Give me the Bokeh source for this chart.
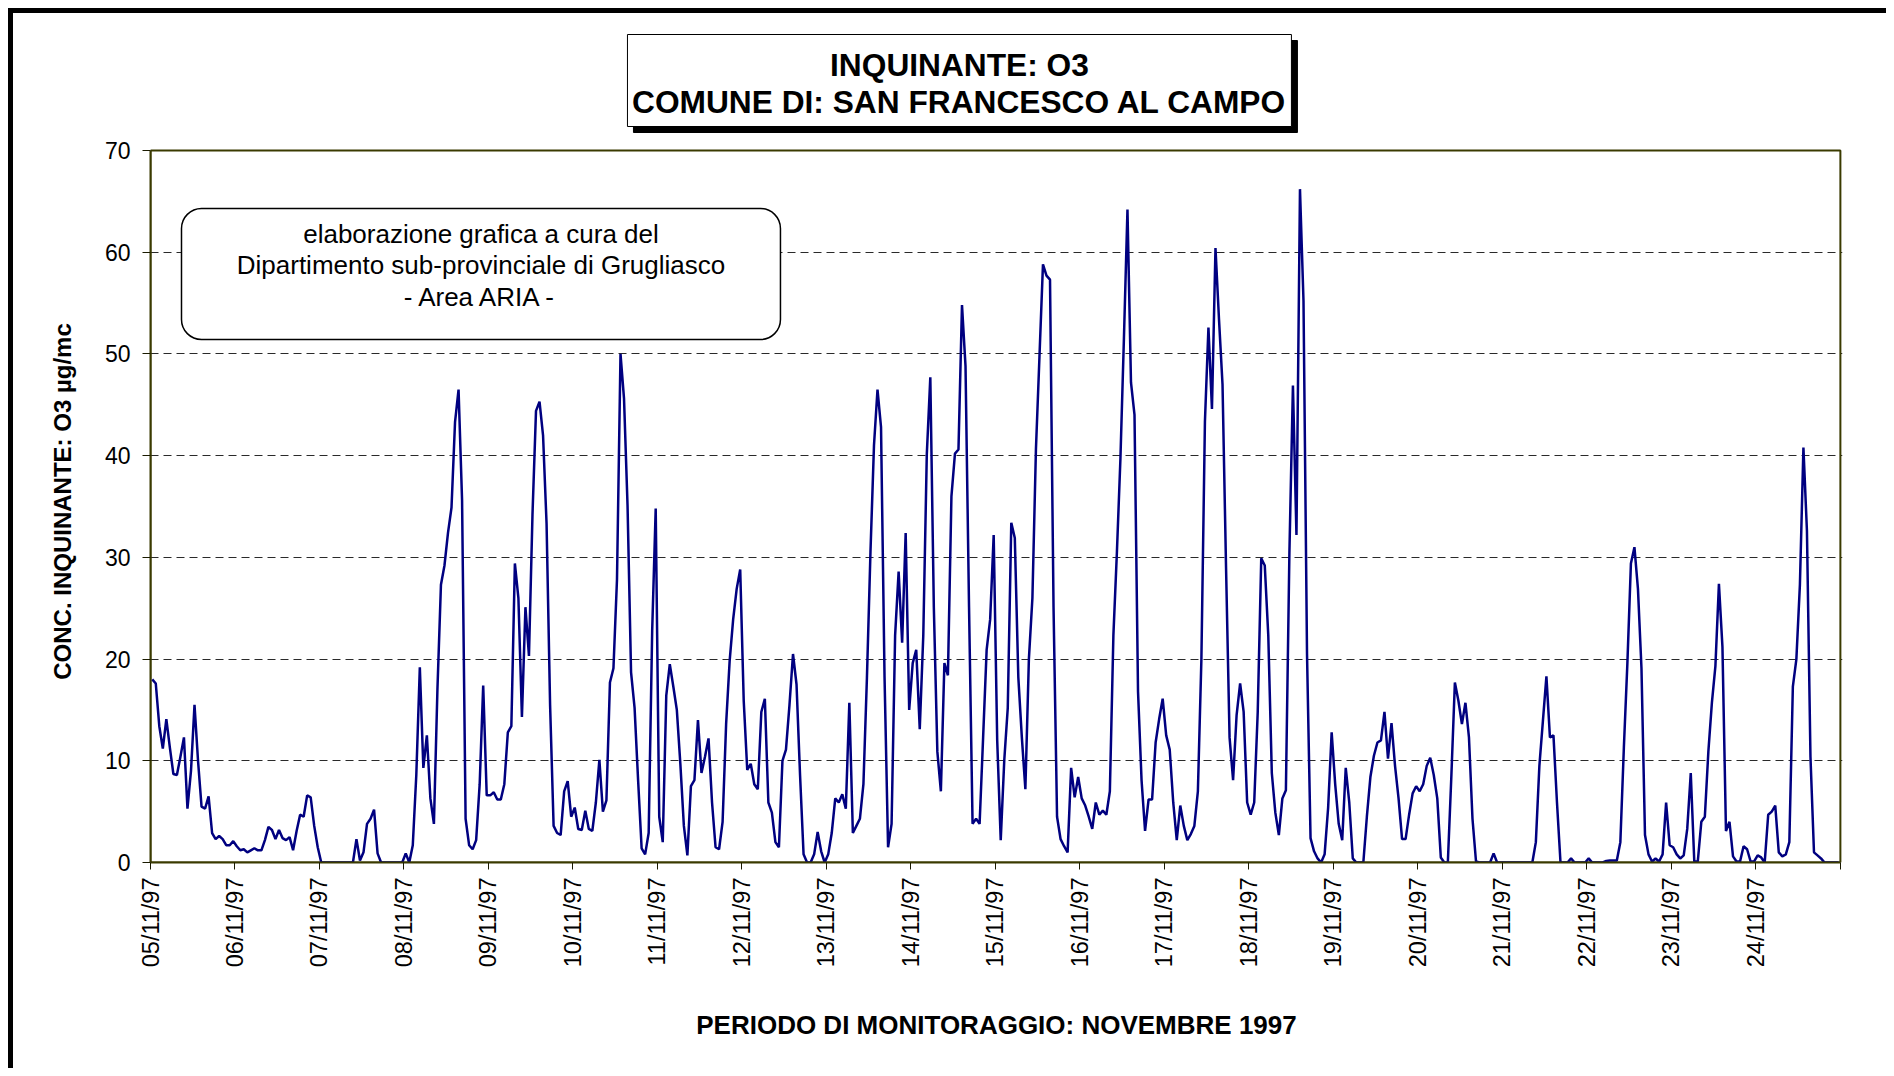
import math
from bokeh.plotting import figure
from bokeh.models import ColumnDataSource, FixedTicker, Label, BoxAnnotation, Range1d
from bokeh.embed import file_html
from bokeh.resources import INLINE

# ---------------- data (hourly O3, µg/mc) ----------------
day_labels = ["05/11/97", "06/11/97", "07/11/97", "08/11/97", "09/11/97",
              "10/11/97", "11/11/97", "12/11/97", "13/11/97", "14/11/97",
              "15/11/97", "16/11/97", "17/11/97", "18/11/97", "19/11/97",
              "20/11/97", "21/11/97", "22/11/97", "23/11/97", "24/11/97"]

o3_0511 = [18.0, 17.6, 13.4, 11.2, 14.1, 11.3, 8.7, 8.6, 10.4, 12.3, 5.3, 9.0,
           15.5, 10.0, 5.5, 5.3, 6.5, 2.9, 2.3, 2.6, 2.3, 1.7, 1.7, 2.1]
o3_0611 = [1.6, 1.2, 1.3, 1.0, 1.2, 1.4, 1.2, 1.2, 2.2, 3.5, 3.2, 2.3,
           3.2, 2.4, 2.2, 2.5, 1.2, 3.1, 4.7, 4.5, 6.6, 6.4, 3.6, 1.5]
o3_0711 = [0, 0, 0, 0, 0, 0, 0, 0, 0, 0, 2.3, 0.2,
           1.0, 3.8, 4.3, 5.2, 0.9, 0, 0, 0, 0, 0, 0, 0]
o3_0811 = [0.9, 0, 1.7, 8.6, 19.2, 9.3, 12.5, 6.3, 3.8, 17.0, 27.3, 29.2,
           32.4, 34.9, 43.3, 46.5, 35.6, 4.3, 1.7, 1.3, 2.2, 7.7, 17.4, 6.6]
o3_0911 = [6.6, 6.9, 6.2, 6.2, 7.7, 12.8, 13.4, 29.4, 26.0, 14.3, 25.1, 20.3,
           34.2, 44.4, 45.3, 42.0, 33.3, 15.5, 3.6, 2.9, 2.7, 7.0, 8.0, 4.5]
o3_1011 = [5.4, 3.3, 3.2, 5.1, 3.3, 3.1, 5.9, 10.1, 5.0, 6.1, 17.7, 19.1,
           27.8, 50.0, 45.6, 35.1, 18.7, 15.2, 8.1, 1.4, 0.8, 2.9, 22.8, 34.8]
o3_1111 = [4.5, 2.0, 16.4, 19.5, 17.3, 15.0, 9.7, 3.6, 0.7, 7.5, 8.1, 14.0,
           8.8, 10.4, 12.2, 5.9, 1.5, 1.3, 4.0, 13.6, 19.8, 23.9, 26.9, 28.8]
o3_1211 = [15.9, 9.1, 9.7, 7.7, 7.2, 14.8, 16.1, 5.9, 4.9, 2.0, 1.5, 10.0,
           11.1, 15.5, 20.5, 17.5, 8.6, 0.8, 0, 0, 0.8, 3.0, 1.1, 0]
o3_1311 = [0.8, 2.9, 6.3, 5.9, 6.7, 5.3, 15.7, 2.9, 3.6, 4.3, 7.7, 18.2,
           30.5, 41.0, 46.5, 42.8, 18.2, 1.5, 3.8, 22.3, 28.6, 21.6, 32.4, 15.0]
o3_1411 = [19.6, 20.9, 13.1, 22.3, 40.1, 47.7, 25.1, 10.9, 7.0, 19.6, 18.4, 36.0,
           40.2, 40.6, 54.8, 48.8, 25.1, 3.8, 4.3, 3.8, 12.3, 20.9, 23.9, 32.2]
o3_1511 = [12.0, 2.2, 10.0, 15.2, 33.4, 31.9, 18.2, 12.3, 7.2, 20.0, 26.0, 40.6,
           49.7, 58.8, 57.7, 57.3, 25.1, 4.5, 2.3, 1.6, 1.0, 9.3, 6.4, 8.4]
o3_1611 = [6.3, 5.6, 4.5, 3.3, 5.9, 4.7, 5.1, 4.7, 7.0, 22.3, 30.5, 39.7,
           51.6, 64.2, 47.2, 44.0, 16.8, 8.1, 3.1, 6.2, 6.2, 11.8, 14.1, 16.1]
o3_1711 = [12.5, 11.1, 5.9, 2.2, 5.6, 3.6, 2.2, 2.8, 3.6, 7.0, 20.0, 43.3,
           52.6, 44.6, 60.4, 53.4, 47.0, 29.0, 12.3, 8.1, 14.5, 17.6, 14.8, 5.9]
o3_1811 = [4.7, 5.9, 14.8, 29.9, 29.2, 22.3, 8.8, 4.9, 2.7, 6.3, 7.1, 30.5,
           46.9, 32.2, 66.2, 55.2, 20.5, 2.4, 1.1, 0.4, 0, 0.8, 5.4, 12.8]
o3_1911 = [7.7, 3.8, 2.2, 9.3, 5.9, 0.4, 0, 0, 0, 4.5, 8.4, 10.5,
           11.8, 12.0, 14.8, 10.2, 13.7, 9.5, 6.3, 2.3, 2.3, 4.7, 6.8, 7.5]
o3_2011 = [7.0, 7.7, 9.5, 10.3, 8.6, 6.3, 0.5, 0, 0, 8.5, 17.7, 15.9,
           13.6, 15.7, 12.3, 4.3, 0.1, 0, 0, 0, 0, 0.9, 0, 0]
o3_2111 = [0, 0, 0, 0, 0, 0, 0, 0, 0, 2.0, 9.5, 13.9,
           18.3, 12.3, 12.5, 5.9, 0, 0, 0, 0.4, 0, 0, 0, 0]
o3_2211 = [0.4, 0, 0, 0, 0, 0.15, 0.2, 0.2, 0.2, 2.0, 11.3, 19.6,
           29.4, 31.0, 26.9, 19.1, 2.7, 0.8, 0.1, 0.4, 0.1, 0.8, 5.9, 1.7]
o3_2311 = [1.5, 0.8, 0.4, 0.7, 3.3, 8.8, 0.1, 0.1, 4.0, 4.5, 10.9, 15.7,
           19.3, 27.4, 21.2, 3.1, 4.0, 0.6, 0.1, 0.1, 1.6, 1.3, 0.1, 0.1]
o3_2411 = [0.7, 0.5, 0, 4.7, 5.0, 5.6, 1.0, 0.6, 0.8, 2.0, 17.3, 20.0,
           27.3, 40.8, 32.6, 10.4, 1.0, 0.7, 0.4, 0, 0, 0, 0, 0]

y_ticks = [0, 10, 20, 30, 40, 50, 60, 70]

title_lines = ["INQUINANTE: O3", "COMUNE DI: SAN FRANCESCO AL CAMPO"]
note_lines = ["elaborazione grafica a cura del",
              "Dipartimento sub-provinciale di Grugliasco",
              "- Area ARIA -"]
x_title = "PERIODO DI MONITORAGGIO: NOVEMBRE 1997"
y_title = "CONC. INQUINANTE: O3 \u00b5g/mc"

# ---------------- assemble ----------------
days = [o3_0511, o3_0611, o3_0711, o3_0811, o3_0911, o3_1011, o3_1111, o3_1211,
        o3_1311, o3_1411, o3_1511, o3_1611, o3_1711, o3_1811, o3_1911, o3_2011,
        o3_2111, o3_2211, o3_2311, o3_2411]
values = [v for d in days for v in d]
hours = [i + 0.5 for i in range(len(values))]
n_hours = 24 * len(days)
y_max = y_ticks[-1]

source = ColumnDataSource(data=dict(hour=hours, o3=values))

FONT = "Liberation Sans"
OLIVE = "#3a3a00"

# page geometry in reference px: plot area 150..1840 x 150..862
OFF = 13                      # 8px margin + 5px border
PL, PR, PT, PB = 150, 1840, 150, 862
FRAME_TOP = 20                # frame extended upward to host the title box
PX_PER_H = (PR - PL) / n_hours
PX_PER_V = (PB - PT) / y_max
X_PAD = 0.6                   # hours of frame beyond the right border
W, H = 1873, 1055

frame_w = int(round((n_hours + X_PAD) * PX_PER_H))
frame_h = PB - FRAME_TOP
y_top = frame_h / PX_PER_V

p = figure(frame_width=frame_w, frame_height=frame_h,
           x_range=Range1d(0, n_hours + X_PAD), y_range=Range1d(0, y_top),
           output_backend="svg", toolbar_location=None,
           min_border_left=PL - OFF, min_border_top=FRAME_TOP - OFF,
           min_border_right=W - (PL - OFF) - frame_w,
           min_border_bottom=H - (PB - OFF),
           background_fill_color="white", border_fill_color="white",
           outline_line_color=None)
p.styles = {"margin-left": "8px", "margin-top": "8px",
            "border-left": "5px solid black", "border-top": "5px solid black"}

def dx(px):
    return (px - PL) / PX_PER_H

def dy(py):
    return (PB - py) / PX_PER_V

# grid
p.xgrid.visible = False
p.ygrid.ticker = FixedTicker(ticks=y_ticks[1:-1])
p.ygrid.grid_line_color = "#2a2a2a"
p.ygrid.grid_line_dash = "8 5"
p.ygrid.grid_line_width = 1

# axes
for ax in (p.xaxis[0], p.yaxis[0]):
    ax.axis_line_color = OLIVE
    ax.axis_line_width = 2
    ax.minor_tick_line_color = None
    ax.major_tick_line_color = "#1a1a00"
    ax.major_tick_line_width = 1
    ax.major_tick_in = 0
    ax.major_label_text_font = FONT
    ax.major_label_text_color = "black"
    ax.axis_label_text_font = FONT
    ax.axis_label_text_font_style = "bold"
    ax.axis_label_text_color = "black"

# the frame reaches above the plot area (title box); pad the label end so that
# the visible title sits centred on the 0..70 span
p.yaxis.bounds = (0, y_max)
p.yaxis.ticker = FixedTicker(ticks=y_ticks)
p.yaxis.major_tick_out = 8
p.yaxis.major_label_standoff = 12
p.yaxis.major_label_text_font_size = "23px"
p.yaxis.axis_label = y_title + "\u00a0" * 18
p.yaxis.axis_label_text_font_size = "24px"
p.yaxis.axis_label_standoff = 26

day_ticks = [24 * i for i in range(len(day_labels) + 1)]
overrides = {t: (day_labels[i] if i < len(day_labels) else "") for i, t in enumerate(day_ticks)}
p.xaxis.bounds = (0, n_hours)
p.xaxis.ticker = FixedTicker(ticks=day_ticks)
p.xaxis.major_label_overrides = overrides
p.xaxis.major_label_orientation = math.pi / 2
p.xaxis.major_label_text_font_size = "23.5px"
p.xaxis.major_tick_out = 7
p.xaxis.major_label_standoff = 8
p.xaxis.axis_label = x_title
p.xaxis.axis_label_text_font_size = "26px"
p.xaxis.axis_label_standoff = 40

# plot-area border (top / right)
p.add_layout(BoxAnnotation(left=0, right=n_hours, bottom=0, top=y_max,
                           fill_color=None, line_color=OLIVE, line_alpha=1.0,
                           line_width=2, level="underlay"))

# data line
p.line("hour", "o3", source=source, line_color="#000080", line_width=2.5)

# note box (rounded) inside the plot
p.add_layout(BoxAnnotation(left=dx(181), right=dx(780), top=dy(208), bottom=dy(339),
                           fill_color="white", fill_alpha=1.0,
                           line_color="black", line_alpha=1.0, line_width=1.5,
                           border_radius=20))
for txt, py in zip(note_lines, [233, 264.5, 296]):
    p.add_layout(Label(x=dx(480.5), y=dy(py), text=txt, text_align="center",
                       text_baseline="middle", text_font=FONT,
                       text_font_size="26px", text_color="black"))

# title box with shadow
p.add_layout(BoxAnnotation(left=dx(633), right=dx(1297), top=dy(40), bottom=dy(132),
                           fill_color="black", fill_alpha=1.0, line_color="black",
                           line_alpha=1.0, line_width=1))
p.add_layout(BoxAnnotation(left=dx(627), right=dx(1291), top=dy(34), bottom=dy(126),
                           fill_color="white", fill_alpha=1.0, line_color="black",
                           line_alpha=1.0, line_width=1))
for txt, py in zip(title_lines, [64, 101.5]):
    p.add_layout(Label(x=dx(959), y=dy(py), text=txt, text_align="center",
                       text_baseline="middle", text_font=FONT,
                       text_font_style="bold", text_font_size="31.7px",
                       text_color="black"))

open("out.html", "w").write(file_html(p, INLINE))
